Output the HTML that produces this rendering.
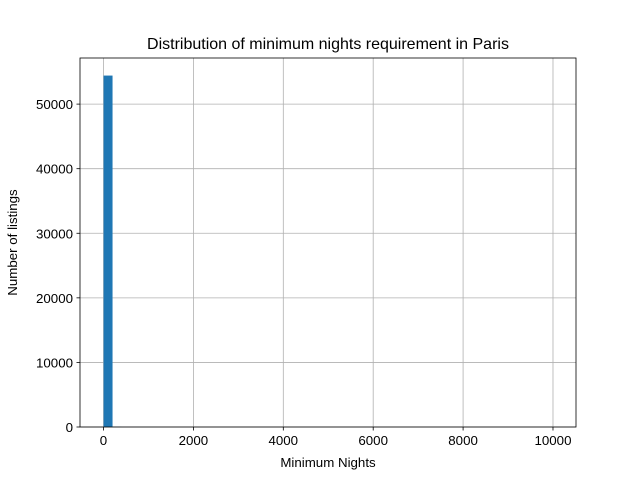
<!DOCTYPE html>
<html><head><meta charset="utf-8"><style>
body{margin:0;background:#fff}
svg{font-family:"Liberation Sans","DejaVu Sans",sans-serif}
</style></head><body>
<svg id="chart" width="640" height="480"></svg>
<script>
const binStart = 1;
const binWidth = 200;
const counts = [54420,30,8,5,3,2,1,1,0,0,0,0,0,0,0,0,0,0,0,0,0,0,0,0,0,0,0,0,0,0,0,0,0,0,0,0,0,0,0,0,0,0,0,0,0,0,0,0,0,2];
const xTicks = [0,2000,4000,6000,8000,10000];
const yTicks = [0,10000,20000,30000,40000,50000];

const L=80,R=576,T=58,B=427;
const xMin=-523,xMax=10512;
const yMax=Math.max(...counts)*1.05;
const sx=v=>L+(v-xMin)/(xMax-xMin)*(R-L);
const sy=v=>B-v/yMax*(B-T);
const NS="http://www.w3.org/2000/svg";
const svg=document.getElementById('chart');
function mk(t,a,p){const e=document.createElementNS(NS,t);for(const k in a)e.setAttribute(k,a[k]);(p||svg).appendChild(e);return e;}

const grid=mk('g',{});


xTicks.forEach(v=>{mk('line',{x1:sx(v),x2:sx(v),y1:T,y2:B,stroke:'#b0b0b0','stroke-width':0.8},grid);});
yTicks.forEach(v=>{mk('line',{x1:L,x2:R,y1:sy(v),y2:sy(v),stroke:'#b0b0b0','stroke-width':0.8},grid);});

const bars=mk('g',{});


counts.forEach((c,i)=>{
  if(c<=0)return;
  const x0=sx(binStart+i*binWidth),x1=sx(binStart+(i+1)*binWidth);
  const r=mk('rect',{x:x0,y:sy(c),width:x1-x0,height:B-sy(c),fill:'#1f77b4'},bars);
  
  
});

const frame=mk('rect',{x:L,y:T,width:R-L,height:B-T,fill:'none',stroke:'#000','stroke-width':0.8});



const xa=mk('g',{});


xTicks.forEach(v=>{
  mk('line',{x1:sx(v),x2:sx(v),y1:B,y2:B+3.5,stroke:'#000','stroke-width':0.8},xa);
  const t=mk('text',{x:sx(v),y:B+18,'text-anchor':'middle','font-size':13.3},xa);
  t.textContent=v;
  
  
});
const ya=mk('g',{});


yTicks.forEach(v=>{
  mk('line',{x1:L-3.5,x2:L,y1:sy(v),y2:sy(v),stroke:'#000','stroke-width':0.8},ya);
  const t=mk('text',{x:L-7,y:sy(v)+5,'text-anchor':'end','font-size':13.3},ya);
  t.textContent=v;
  
  
});
const xt=mk('text',{x:(L+R)/2,y:467,'text-anchor':'middle','font-size':13.3});
xt.textContent='Minimum Nights';


const yt=mk('text',{x:0,y:0,'text-anchor':'middle','font-size':13.3,transform:`translate(17,${(T+B)/2}) rotate(-90)`});
yt.textContent='Number of listings';


const tt=mk('text',{x:(L+R)/2,y:49,'text-anchor':'middle','font-size':16});
tt.textContent='Distribution of minimum nights requirement in Paris';


</script>
</body></html>
